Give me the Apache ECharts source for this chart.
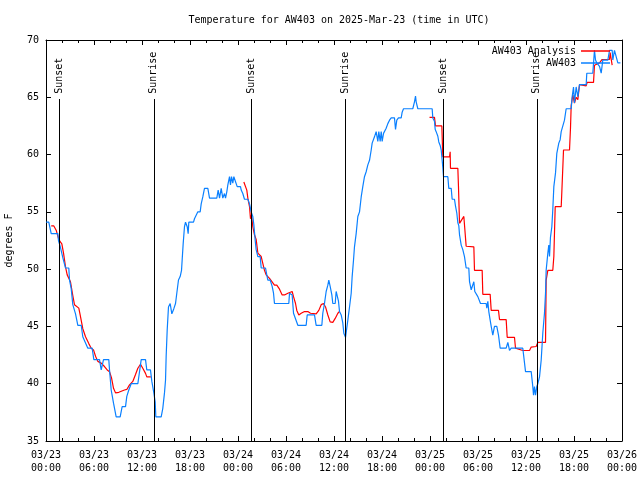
<!DOCTYPE html>
<html>
<head>
<meta charset="utf-8">
<script src="https://cdn.jsdelivr.net/npm/echarts@6/dist/echarts.min.js"></script>
<style>html,body{margin:0;padding:0;background:#fff}#c{width:640px;height:480px}</style>
</head>
<body>
<div id="c"></div>
<script>
// ---- data ----
const titleText = 'Temperature for AW403 on 2025-Mar-23 (time in UTC)';
const tickDates = ['03/23','03/23','03/23','03/23','03/24','03/24','03/24','03/24','03/25','03/25','03/25','03/25','03/26'];
const tickTimes = ['00:00','06:00','12:00','18:00','00:00','06:00','12:00','18:00','00:00','06:00','12:00','18:00','00:00'];
// hours since 03/23 00:00 UTC
const sunHours = [1.62, 13.47, 25.64, 37.40, 49.64, 61.35];
const sunLabels = ['Sunset','Sunrise','Sunset','Sunrise','Sunset','Sunrise'];

const obsHours = [0.02,0.35,0.44,0.65,1.48,1.56,1.77,2.10,2.44,2.85,2.94,3.15,3.35,3.69,3.98,4.40,4.60,5.23,5.77,5.98,6.69,6.90,7.19,7.85,7.94,8.15,8.44,8.77,9.27,9.52,9.94,10.10,10.35,10.65,11.48,11.90,12.44,12.60,13.06,13.23,13.48,13.65,13.73,14.40,14.60,14.81,14.94,15.02,15.15,15.31,15.52,15.73,15.98,16.19,16.35,16.56,16.77,16.94,17.02,17.15,17.31,17.44,17.65,17.77,17.85,18.44,18.56,18.77,18.98,19.27,19.40,19.60,19.81,20.23,20.44,21.35,21.52,21.69,21.90,22.10,22.31,22.44,22.60,22.73,22.94,23.06,23.19,23.35,23.48,23.69,23.90,24.31,24.40,24.60,24.81,25.23,25.44,25.65,25.85,25.98,26.15,26.27,26.48,26.77,26.90,27.44,27.60,27.73,28.02,28.27,28.44,28.56,30.35,30.44,30.65,30.77,30.94,31.19,31.48,32.52,32.65,33.56,33.77,34.48,34.60,34.81,35.02,35.23,35.35,35.52,35.73,35.85,36.15,36.27,36.40,36.56,36.69,36.90,37.10,37.23,37.44,37.56,37.73,37.94,38.15,38.27,38.44,38.56,38.77,38.98,39.19,39.40,39.60,39.81,40.02,40.23,40.44,40.65,40.77,40.94,41.06,41.27,41.48,41.60,41.77,41.90,42.02,42.19,42.31,42.52,42.73,42.94,43.15,43.56,43.69,43.85,44.06,44.40,44.52,44.69,45.85,46.06,46.19,46.27,46.48,48.27,48.35,48.56,48.65,48.77,48.98,49.10,49.27,49.40,49.52,49.60,49.69,50.23,50.35,50.65,50.77,51.06,51.19,51.35,51.48,51.60,51.69,51.90,52.10,52.31,52.52,52.85,52.94,53.15,53.35,53.48,53.60,53.98,54.31,55.02,55.10,55.23,55.35,55.52,55.65,55.85,56.06,56.35,56.56,56.77,57.52,57.73,57.94,58.15,59.60,59.94,60.65,60.85,60.94,61.06,61.19,61.35,61.48,61.69,61.90,62.10,62.31,62.44,62.52,62.73,62.85,62.94,63.06,63.23,63.35,63.48,63.69,63.85,64.10,64.27,64.40,64.60,64.81,65.02,65.65,65.77,65.94,66.06,66.27,66.48,66.69,67.52,67.60,68.35,68.56,68.69,68.85,69.19,69.40,69.60,70.23,70.44,70.77,70.85,71.06,71.27,71.48,71.80];
const obsTemps = [54.1,54.1,53.8,53.1,53.1,52.5,52.0,51.0,50.1,50.1,49.05,48.3,46.9,46.1,45.1,45.1,44.1,43.1,43.1,42.1,42.1,41.2,42.1,42.1,41.2,39.45,38.3,37.1,37.1,38.0,38.0,38.9,39.45,40.0,40.0,42.1,42.1,41.2,41.2,40.2,39.2,38.4,37.1,37.1,37.85,39.2,40.3,42.4,44.7,46.7,47.0,46.1,46.55,47.0,47.9,49.05,49.35,49.9,50.8,52.25,53.7,54.1,53.7,53.1,54.1,54.1,54.4,54.7,55.0,55.0,55.7,56.3,57.05,57.05,56.2,56.2,56.9,56.2,57.05,56.2,56.6,56.2,56.75,57.35,58.07,57.35,58.07,57.5,58.07,58.07,57.2,57.2,56.9,56.6,56.1,56.1,55.7,55.0,54.6,53.9,52.5,51.7,51.1,51.1,50.1,50.1,49.5,49.05,49.05,48.5,47.9,47.0,47.0,47.9,48.05,47.75,46.15,46.0,45.1,45.1,46.0,46.0,45.1,45.1,46.15,47.0,48.05,48.6,49.05,48.5,47.75,47.0,47.0,48.05,47.9,47.2,46.3,46.0,45.3,44.4,44.05,44.05,45.55,46.7,47.9,49.35,50.8,51.95,53.1,54.6,55.0,56.3,57.2,58.07,58.5,59.1,59.5,60.4,61.0,61.15,61.55,62.0,61.15,62.0,61.15,62.0,61.15,61.85,62.0,62.3,62.7,63.0,63.2,63.2,62.2,63.0,63.2,63.2,63.7,64.0,64.0,64.6,65.1,64.6,64.0,64.0,63.2,62.9,62.2,62.0,61.6,61.1,60.8,60.4,59.5,58.9,58.07,58.07,57.05,57.05,56.1,56.1,55.5,54.9,54.05,53.8,53.0,52.1,51.7,51.1,50.1,50.1,48.9,48.2,48.05,48.9,48.05,47.6,47.0,47.0,46.6,47.2,46.3,45.55,45.0,44.25,45.0,45.0,44.25,43.1,43.1,43.6,42.9,43.1,43.1,41.05,41.05,39.75,39.0,39.75,39.0,39.75,40.0,40.6,42.07,44.4,46.15,47.9,49.9,51.4,52.1,51.1,52.8,53.7,55.2,57.2,58.4,60.1,61.0,61.3,62.0,62.15,63.0,64.0,64.0,65.05,65.9,64.5,65.9,65.05,66.1,66.1,67.1,67.1,69.1,68.25,68.0,67.7,67.1,68.25,68.25,69.1,69.1,68.25,69.1,69.1,68.0,68.0];

const anaHours = [0.65,0.98,1.27,1.56,1.77,1.98,2.19,2.44,2.65,3.06,3.35,3.56,4.10,4.27,4.60,4.94,5.35,5.65,5.94,6.19,6.48,6.90,7.31,7.65,7.94,8.19,8.44,8.69,9.10,9.81,10.10,10.44,10.85,11.19,11.48,11.81,12.10,12.44,12.60,13.10,18.0,24.73,24.94,25.10,25.23,25.44,25.56,25.69,25.85,26.06,26.27,26.48,26.90,27.10,27.31,27.52,27.94,28.56,28.85,29.19,29.52,29.81,30.23,30.44,30.77,30.94,31.19,31.35,31.60,31.90,32.31,32.73,33.06,33.77,34.10,34.40,34.69,34.94,35.23,35.52,35.85,36.15,36.48,36.69,42.0,47.94,48.56,48.69,49.48,49.60,50.44,50.52,50.56,51.48,51.56,51.69,51.90,52.23,52.44,52.52,53.48,53.56,54.52,54.60,55.52,55.65,56.56,56.69,57.52,57.65,58.56,58.69,59.60,60.44,60.65,61.27,61.48,62.44,62.52,62.73,63.35,63.48,63.65,64.40,64.48,64.69,65.44,65.56,65.65,65.85,66.06,66.27,66.48,66.69,66.90,67.52,67.65,68.44,68.56,69.19,69.52,70.44,70.52,70.77];
const anaTemps = [53.77,53.77,53.4,52.7,52.4,52.2,51.4,50.2,49.5,48.9,47.7,46.9,46.6,46.0,44.8,44.1,43.5,43.1,42.95,42.4,41.95,41.8,41.5,41.2,41.05,40.5,39.6,39.2,39.25,39.45,39.5,39.9,40.2,40.8,41.35,41.7,41.35,40.9,40.6,40.6,null,57.6,57.6,56.9,56.2,55.45,54.4,54.7,53.7,53.0,52.6,51.4,51.1,50.5,49.9,49.5,49.2,48.6,48.6,48.25,47.75,47.75,47.9,48.05,48.05,47.6,47.0,46.4,46.0,46.15,46.3,46.3,46.15,46.1,46.4,46.9,47.0,46.7,46.0,45.4,45.35,45.7,46.15,46.3,null,63.25,63.25,62.5,62.5,59.8,59.8,60.25,58.8,58.8,57.2,54.0,54.0,54.6,54.6,52.0,51.95,49.9,49.9,47.8,47.8,46.4,46.4,45.6,45.6,44.05,44.05,43.1,42.9,42.9,43.2,43.25,43.6,43.6,49.05,49.9,49.9,51.1,55.45,55.45,56.75,60.4,60.4,62.3,64.3,65.2,64.5,65.0,64.8,66.1,66.0,66.0,66.3,66.3,67.8,68.0,68.3,68.3,68.9,67.8];

// ---- chart ----
const FONT = 'DejaVu Sans Mono';
const txt = {fontFamily: FONT, fontSize: 10, color: '#000'};
const zip = (xs, ys) => xs.map((x, i) => [x, ys[i]]);
const lineTop = 64.85, labelBase = 65.3;

const chart = echarts.init(document.getElementById('c'), null, {renderer: 'canvas'});

const xBase = {
  type: 'value', min: 0, max: 72, interval: 6,
  axisLine: {show: true, onZero: false, lineStyle: {color: '#000', width: 1}},
  axisTick: {show: true, inside: true, length: 5, lineStyle: {color: '#000'}},
  minorTick: {show: true, splitNumber: 3, length: 3, lineStyle: {color: '#000'}},
  splitLine: {show: false}, minorSplitLine: {show: false}
};
const yBase = {
  type: 'value', min: 35, max: 70, interval: 5,
  axisLine: {show: true, onZero: false, lineStyle: {color: '#000', width: 1}},
  axisTick: {show: true, inside: true, length: 5, lineStyle: {color: '#000'}},
  splitLine: {show: false}
};

chart.setOption({
  animation: false,
  backgroundColor: '#fff',
  title: {text: titleText, left: 334, top: 10, textAlign: 'center',
          textStyle: Object.assign({fontWeight: 'normal'}, txt)},
  grid: {left: 46, right: 18, top: 40, bottom: 39, containLabel: false, outerBoundsMode: 'none'},
  legend: [
    {data: ['AW403 Analysis'], right: 30, top: 46, align: 'right', icon: 'rect',
     itemWidth: 29, itemHeight: 1.5, selectedMode: false, textStyle: txt, padding: 0},
    {data: ['AW403'], right: 30, top: 58, align: 'right', icon: 'rect',
     itemWidth: 29, itemHeight: 1.5, selectedMode: false, textStyle: txt, padding: 0}
  ],
  xAxis: [
    Object.assign({}, xBase, {position: 'bottom',
      axisLabel: Object.assign({show: true, margin: 8, lineHeight: 13,
        formatter: v => { const i = Math.round(v / 6); return tickDates[i] + '\n' + tickTimes[i]; }}, txt)}),
    Object.assign({}, xBase, {position: 'top', axisLabel: {show: false}})
  ],
  yAxis: [
    Object.assign({}, yBase, {position: 'left', name: 'degrees F', nameLocation: 'middle',
      nameGap: 32, nameRotate: 90, nameTextStyle: txt,
      axisLabel: Object.assign({show: true, margin: 7}, txt)}),
    Object.assign({}, yBase, {position: 'right', axisLabel: {show: false}})
  ],
  series: [
    {name: 'AW403 Analysis', type: 'line', data: zip(anaHours, anaTemps),
     showSymbol: false, symbol: 'none', connectNulls: false,
     lineStyle: {color: '#ff0000', width: 1.2}, itemStyle: {color: '#ff0000'}, z: 2},
    {name: 'AW403', type: 'line', data: zip(obsHours, obsTemps),
     showSymbol: false, symbol: 'none',
     lineStyle: {color: '#0a80ff', width: 1.2}, itemStyle: {color: '#0a80ff'}, z: 3,
     markLine: {silent: true, symbol: ['none', 'none'], animation: false,
       label: {show: false},
       lineStyle: {color: '#000', width: 1, type: 'solid'},
       data: sunHours.map(h => [{coord: [h, 35]}, {coord: [h, lineTop]}])},
     markPoint: {silent: true, symbol: 'rect', symbolSize: 0, animation: false,
       label: Object.assign({show: true, position: 'inside', rotate: 90, align: 'left',
         verticalAlign: 'middle', formatter: '{b}'}, txt),
       data: sunHours.map((h, i) => ({coord: [h, labelBase], name: sunLabels[i]}))}
    }
  ]
});
</script>
</body>
</html>
